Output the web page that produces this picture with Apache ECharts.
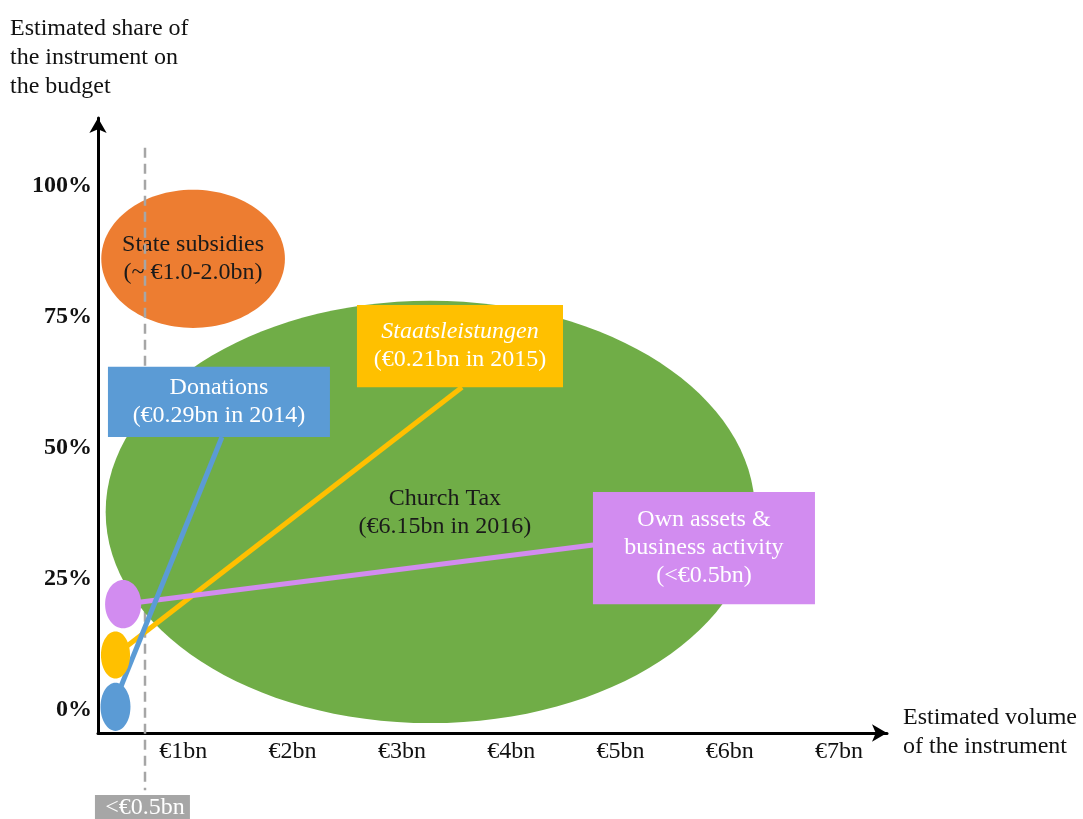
<!DOCTYPE html>
<html>
<head>
<meta charset="utf-8">
<script src="https://cdn.jsdelivr.net/npm/echarts@6/dist/echarts.min.js"></script>
<style>html,body{margin:0;padding:0;background:#fff;}#chart{width:1083px;height:819px;}</style>
</head>
<body>
<div id="chart"></div>
<script>
// ---- data ----
const volumeTicks = [1, 2, 3, 4, 5, 6, 7];            // €bn
const shareTicks = [0, 25, 50, 75, 100];              // %
const instruments = ['State subsidies', 'Church Tax', 'Own assets & business activity', 'Staatsleistungen', 'Donations'];
const instrumentLabels = [
  'State subsidies\n(~ €1.0-2.0bn)',
  'Church Tax\n(€6.15bn in 2016)',
  'Own assets &\nbusiness activity\n(<€0.5bn)',
  'Staatsleistungen\n(€0.21bn in 2015)',
  'Donations\n(€0.29bn in 2014)'
];
const volumeMid = [1.09, 3.26, 0.45, 0.38, 0.38];        // €bn (ellipse centre)
const volumeHalfRange = [0.84, 2.97, 0.165, 0.133, 0.137];
const shareMid = [86.1, 37.8, 20.2, 10.5, 0.6];          // % (ellipse centre)
const shareHalfRange = [13.2, 40.3, 4.6, 4.5, 4.6];
const thresholdVolume = 0.65;                             // dashed marker
const thresholdLabel = '<€0.5bn';

// ---- styles / annotation layout ----
const colors = ['#ED7D31', '#70AD47', '#D28CF0', '#FFC000', '#5B9BD5'];
const FONT = '"Liberation Serif", "Times New Roman", serif';
const FS = 24;
// callout boxes [x0, x1, y0, y1] in data units, plus connector end point
const callouts = {
  2: { box: [4.748, 6.779, 20.2, 41.6], end: [4.75, 31.5] },
  3: { box: [2.589, 4.474, 61.6, 77.3], end: [3.55, 61.6] },
  4: { box: [0.311, 2.342, 52.1, 65.5], end: [1.354, 52.1] }
};

function ellipseEl(api, i) {
  const c = api.coord([volumeMid[i], shareMid[i]]);
  const s = api.size([volumeHalfRange[i], shareHalfRange[i]]);
  return { type: 'ellipse', shape: { cx: c[0], cy: c[1], rx: s[0], ry: s[1] }, style: { fill: colors[i] } };
}
function textEl(p, text, fill, extra) {
  return {
    type: 'text',
    style: Object.assign({
      text: text, x: p[0], y: p[1], fill: fill,
      fontSize: FS, fontFamily: FONT, align: 'center', verticalAlign: 'middle', lineHeight: 28
    }, extra || {})
  };
}

const chart = echarts.init(document.getElementById('chart'));
const option = {
  animation: false,
  backgroundColor: '#fff',
  grid: { left: 98, right: 1083 - 887, top: 118, bottom: 86, containLabel: false, outerBoundsMode: 'none' },
  xAxis: {
    type: 'value', min: 0.22, max: 7.438,
    axisLine: { show: true, onZero: false, symbol: ['none', 'arrow'], symbolSize: [13, 15], lineStyle: { color: '#000', width: 3 } },
    axisTick: { show: false },
    splitLine: { show: false },
    axisLabel: {
      customValues: volumeTicks, formatter: v => '€' + v + 'bn',
      fontSize: FS, fontFamily: FONT, color: '#111', margin: 7
    }
  },
  yAxis: {
    type: 'value', min: -4.39, max: 112.98,
    axisLine: { show: true, onZero: false, symbol: ['none', 'arrow'], symbolSize: [13, 15], lineStyle: { color: '#000', width: 3 } },
    axisTick: { show: false },
    splitLine: { show: false },
    axisLabel: {
      customValues: shareTicks, formatter: v => v + '%',
      fontSize: FS, fontFamily: FONT, fontWeight: 'bold', color: '#111', margin: 6
    }
  },
  graphic: [
    { type: 'text', left: 10, top: 14, style: { text: 'Estimated share of\nthe instrument on\nthe budget', fontSize: FS, fontFamily: FONT, fill: '#111', lineHeight: 29 } },
    { type: 'text', left: 903, top: 703, style: { text: 'Estimated volume\nof the instrument', fontSize: FS, fontFamily: FONT, fill: '#111', lineHeight: 29 } }
  ],
  series: [
    // layer 1: state subsidies ellipse
    {
      type: 'custom', z: 1, clip: false, data: [[0]],
      renderItem: (params, api) => {
        const c = api.coord([volumeMid[0], shareMid[0]]);
        return { type: 'group', children: [ellipseEl(api, 0), textEl(c, instrumentLabels[0], '#1a1a1a')] };
      }
    },
    // layer 2: dashed threshold line with label box
    {
      type: 'custom', z: 2, clip: false, data: [[thresholdVolume]],
      renderItem: (params, api) => {
        const top = api.coord([api.value(0), 107.3]);
        const bot = api.coord([api.value(0), -15.3]);
        const b0 = api.coord([0.192, -16.2]);
        const b1 = api.coord([1.061, -22]);
        return {
          type: 'group', children: [
            { type: 'line', shape: { x1: top[0], y1: top[1], x2: bot[0], y2: bot[1] }, style: { stroke: '#A6A6A6', lineWidth: 2.5, lineDash: [10, 6] } },
            { type: 'rect', shape: { x: b0[0], y: b0[1], width: b1[0] - b0[0], height: b1[1] - b0[1] }, style: { fill: '#A6A6A6' } },
            textEl([top[0], b0[1] + 13], thresholdLabel, '#fff')
          ]
        };
      }
    },
    // layer 3: church tax ellipse
    {
      type: 'custom', z: 3, clip: false, data: [[1]],
      renderItem: (params, api) => {
        const c = api.coord([3.394, 37.6]);
        return { type: 'group', children: [ellipseEl(api, 1), textEl(c, instrumentLabels[1], '#1a1a1a')] };
      }
    },
    // layer 4: callout boxes
    {
      type: 'custom', z: 4, clip: false, data: [[2], [3], [4]],
      renderItem: (params, api) => {
        const i = api.value(0);
        const bx = callouts[i].box;
        const p0 = api.coord([bx[0], bx[3]]);
        const p1 = api.coord([bx[1], bx[2]]);
        const mid = [(p0[0] + p1[0]) / 2, (p0[1] + p1[1]) / 2];
        let txt;
        if (i === 3) {
          txt = textEl(mid, '{it|Staatsleistungen}\n(€0.21bn in 2015)', '#fff', {
            rich: { it: { fontStyle: 'italic', fontSize: FS, fontFamily: FONT, fill: '#fff', lineHeight: 28 } }
          });
        } else {
          txt = textEl(mid, instrumentLabels[i], '#fff');
        }
        return {
          type: 'group', children: [
            { type: 'rect', shape: { x: p0[0], y: p0[1], width: p1[0] - p0[0], height: p1[1] - p0[1] }, style: { fill: colors[i] } },
            txt
          ]
        };
      }
    },
    // layer 5: connector lines (yellow, purple, blue)
    {
      type: 'custom', z: 5, clip: false, data: [[3], [2], [4]],
      renderItem: (params, api) => {
        const i = api.value(0);
        const a = api.coord([volumeMid[i], shareMid[i] + (i === 4 ? 1.3 : 0)]);
        const b = api.coord(callouts[i].end);
        return { type: 'line', shape: { x1: a[0], y1: a[1], x2: b[0], y2: b[1] }, style: { stroke: colors[i], lineWidth: 5 } };
      }
    },
    // layer 6: small ellipses
    {
      type: 'custom', z: 6, clip: false, data: [[2], [3], [4]],
      renderItem: (params, api) => ellipseEl(api, api.value(0))
    }
  ]
};
chart.setOption(option);
</script>
</body>
</html>
